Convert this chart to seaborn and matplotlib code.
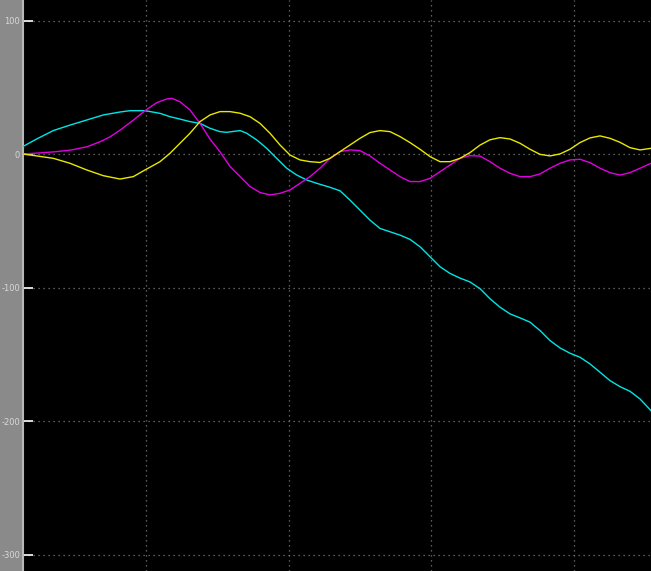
import numpy as np
import pandas as pd
import matplotlib
matplotlib.use("Agg")
import matplotlib.pyplot as plt
import seaborn as sns

# Time axis: one grid division per unit, left edge at t = 0
PX_PER_UNIT = 142.7
X0 = 23.0


def to_t(px):
    return [(p - X0) / PX_PER_UNIT for p in px]


# Signal 1 (cyan)
cyan_px = [23, 36.7, 53.3, 70, 86.7, 103.3, 120, 130, 145, 160, 170, 180, 190, 200, 210,
           220, 226.7, 240, 246.7, 256.7, 266.7, 276.7, 286.7, 296.7, 306.7, 316.7, 330, 340,
           350, 360, 370, 380, 390, 400, 410, 420, 430, 440, 450, 460, 470, 480, 490, 500,
           510, 520, 530, 540, 550, 560, 570, 580, 590, 600, 610, 620, 630, 640, 651]
cyan_val = [6, 11.6, 17.9, 22, 25.8, 29.6, 31.8, 32.8, 32.8, 30.8, 28.3, 26.5, 24.6, 23.3, 19.6,
            17.1, 16.6, 17.9, 15.9, 10.9, 4.6, -2.9, -10.3, -15.4, -19.1, -21.6, -24.6, -27.2,
            -34.2, -41.7, -49.2, -55.4, -57.9, -60.4, -63.6, -69.1, -76.6, -84.1, -89.1, -92.6, -95.5, -100.5, -108.1, -114.4,
            -119.4, -122.4, -125.6, -131.9, -139.4, -144.9, -148.9, -151.9, -156.9, -163.1, -169.4, -173.9, -177.4, -183.1, -191.9]

# Signal 2 (magenta)
mag_px = [23, 53.3, 70, 86.7, 100, 110, 120, 133.3, 145, 156.7, 166.7, 172, 180, 190, 200,
          210, 220, 230, 240, 250, 260, 270, 280, 290, 300, 310, 320, 330, 340, 350,
          360, 370, 380, 390, 400, 410, 420, 430, 440, 450, 460, 470, 480, 490, 500,
          510, 520, 530, 540, 550, 560, 570, 580, 590, 600, 610, 620, 630, 640, 651]
mag_val = [0.3, 1.9, 3.2, 5.7, 9.5, 13.2, 18.2, 25.7, 32.8, 38.8, 41.6, 42, 39.5, 33.3, 23.3,
           11.5, 2, -9, -16.5, -24, -28.5, -30.3, -29.1, -26.6, -21.6, -16.6, -10.3, -2.9, 2.1, 3.4,
           2.9, -1.1, -6.6, -11.6, -16.6, -20.3, -20.3, -17.9, -12.9, -7.9, -2.9, -0.9, -1.2, -5.4, -10.3,
           -14.1, -16.6, -16.6, -14.6, -10.3, -6.6, -4.1, -3.6, -6.1, -10.3, -13.6, -15.4, -13.6, -10.3, -6.6]

# Signal 3 (yellow)
yel_px = [23, 36.7, 53.3, 70, 86.7, 103.3, 120, 133.3, 145, 160, 170, 180, 190, 200, 210,
          220, 230, 240, 250, 260, 270, 280, 290, 300, 310, 320, 330, 340, 350, 360,
          370, 380, 390, 400, 410, 420, 430, 440, 450, 460, 470, 480, 490, 500, 510,
          520, 530, 540, 550, 560, 570, 580, 590, 600, 610, 620, 630, 640, 651]
yel_val = [0.3, -1.1, -2.9, -6.6, -11.6, -15.9, -18.4, -16.6, -11.6, -5.4, 0.9, 8.4, 15.9, 24.6, 29.6,
           32.1, 32.1, 30.9, 28.3, 23.3, 15.9, 7.1, -0.4, -4.1, -5.4, -6, -2.9, 2.1, 7.1, 12.1,
           16.4, 17.9, 17.1, 13.4, 8.9, 3.9, -1.6, -5.4, -5.4, -2.9, 1.4, 7, 11, 12.6, 11.6,
           8.4, 3.9, 0.1, -1.1, 0.4, 3.9, 8.9, 12.4, 13.9, 12.1, 9.1, 5.1, 3.4, 4.6]

y_ticks = [100, 0, -100, -200, -300]
y_tick_labels = ["100", "0", "-100", "-200", "-300"]
x_grid = [(p - X0) / PX_PER_UNIT for p in [146, 289, 431, 574]]

frames = []
for name, px, val in [("cyan", cyan_px, cyan_val),
                      ("magenta", mag_px, mag_val),
                      ("yellow", yel_px, yel_val)]:
    frames.append(pd.DataFrame({"t": to_t(px), "v": val, "sig": name}))
df = pd.concat(frames, ignore_index=True)

palette = {"cyan": "#00e5e5", "magenta": "#e000e0", "yellow": "#e8e800"}

fig = plt.figure(figsize=(6.51, 5.71), dpi=100, facecolor="#8a8a8a")
ax = fig.add_axes([23 / 651, 0, 628 / 651, 1])
ax.set_facecolor("black")

sns.lineplot(data=df, x="t", y="v", hue="sig", palette=palette, estimator=None,
             sort=False, legend=False, linewidth=1.0, ax=ax, zorder=3)

ax.set_xlim(0, (651 - X0) / PX_PER_UNIT)
ax.set_ylim(-312, 115.7)

ax.set_yticks(y_ticks)
ax.set_yticklabels(y_tick_labels)
ax.set_xticks(x_grid)
ax.set_xticklabels([])
ax.tick_params(axis="x", length=0)
ax.tick_params(axis="y", direction="in", length=7, width=1.2, color="white",
               labelsize=6, labelcolor="#d8d8d8", pad=2)
ax.grid(True, color="#7a7a7a", linestyle=(0, (1, 3)), linewidth=0.9, zorder=1)
ax.set_axisbelow(True)

for side in ["top", "right", "bottom"]:
    ax.spines[side].set_visible(False)
ax.spines["left"].set_color("#b8b8b8")
ax.spines["left"].set_linewidth(1.5)

ax.set_xlabel("")
ax.set_ylabel("")

fig.savefig("out.png", dpi=100, facecolor=fig.get_facecolor())
